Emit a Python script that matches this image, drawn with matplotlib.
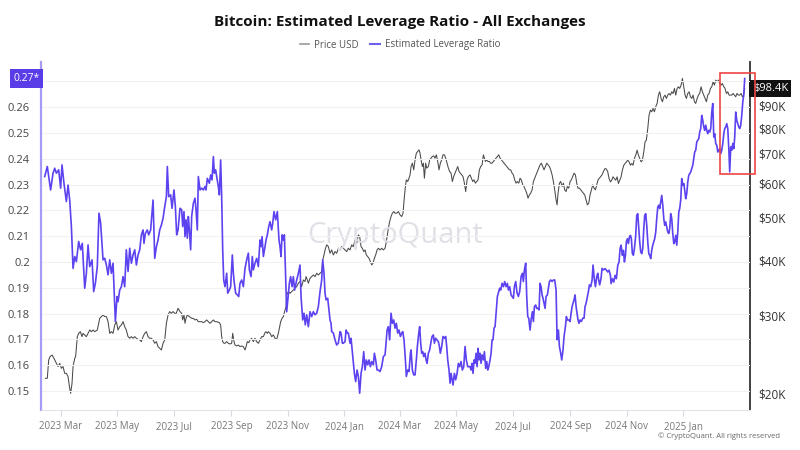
import numpy as np
import pandas as pd
import matplotlib
matplotlib.use("Agg")
import matplotlib.pyplot as plt
import matplotlib.dates as mdates
from matplotlib.lines import Line2D
from matplotlib.patches import Rectangle
from matplotlib.ticker import FixedLocator, FuncFormatter, NullLocator

plt.rcParams["font.family"] = ["Open Sans", "DejaVu Sans"]

TITLE = "Bitcoin: Estimated Leverage Ratio - All Exchanges"
START = pd.Timestamp("2023-02-01")

# days after START
lev_day = [
    10.4, 13.2, 16.8, 19.4, 21.2, 23.0, 25.5, 27.6, 29.1, 31.2, 33.8, 35.6, 37.4, 39.2, 41.0, 42.8,
    44.6, 47.1, 49.2, 51.0, 53.6, 55.4, 57.2, 59.0, 61.5, 63.3, 65.1, 67.2, 69.0, 70.8, 73.4, 75.2,
    77.0, 78.8, 80.6, 82.4, 84.2, 86.7, 88.5, 89.6, 91.4, 93.2, 95.0, 96.8, 98.5, 100.4, 102.2, 104.0,
    105.8, 107.6, 109.4, 111.2, 113.0, 114.8, 116.6, 117.6, 119.1, 121.2, 122.7, 124.8, 127.4, 129.2,
    131.0, 132.8, 134.6, 136.4, 138.2, 140.0, 141.8, 142.8, 144.3, 146.4, 147.9, 150.0, 151.5, 152.9,
    154.4, 156.5, 158.3, 159.4, 160.8, 161.9, 163.0, 164.4, 165.5, 166.6, 168.0, 169.1, 170.9, 172.7,
    173.8, 175.2, 176.3, 178.1, 179.9, 181.7, 183.5, 184.6, 186.0, 188.2, 189.6, 191.1, 192.5, 193.6,
    195.0, 196.1, 197.9, 199.0, 200.4, 201.5, 202.6, 203.7, 205.1, 206.9, 208.0, 209.8, 211.2, 213.0,
    214.1, 215.2, 216.6, 218.4, 219.9, 221.3, 223.1, 224.9, 226.7, 228.5, 230.3, 231.4, 233.2, 234.6,
    235.7, 237.5, 239.3, 241.1, 242.9, 244.0, 245.1, 246.5, 248.3, 249.4, 250.8, 252.3, 253.7, 255.5,
    256.6, 258.0, 259.8, 261.6, 263.4, 264.5, 265.6, 266.7, 268.1, 269.2, 270.3, 271.0, 271.7, 273.1,
    274.6, 276.0, 277.5, 278.9, 280.3, 282.5, 284.3, 286.1, 287.2, 289.0, 290.4, 291.8, 293.3, 295.1,
    296.9, 298.7, 300.5, 302.3, 304.1, 305.9, 307.7, 309.5, 310.6, 312.0, 313.1, 314.2, 316.0, 317.4,
    318.5, 319.6, 320.3, 322.1, 323.9, 325.7, 327.5, 329.3, 330.4, 331.8, 332.9, 334.7, 335.8, 337.2,
    338.3, 340.1, 341.2, 342.6, 343.7, 344.8, 346.2, 347.7, 349.1, 350.5, 352.0, 353.4, 354.9, 356.3,
    357.7, 359.2, 360.6, 362.1, 363.5, 365.3, 366.4, 367.8, 369.3, 370.7, 372.5, 374.3, 376.1, 377.9,
    379.0, 380.1, 381.5, 382.9, 384.4, 385.8, 387.3, 388.7, 390.1, 391.6, 393.0, 394.5, 395.9, 397.0,
    398.4, 399.9, 400.9, 402.4, 403.8, 405.3, 406.0, 407.4, 408.9, 410.3, 411.7, 412.8, 414.3, 415.3,
    416.4, 417.5, 418.6, 419.7, 421.1, 422.2, 423.3, 424.7, 426.1, 427.6, 428.7, 430.1, 431.2, 432.6,
    434.0, 435.5, 436.6, 437.6, 439.1, 440.5, 442.0, 443.4, 444.5, 445.6, 447.0, 448.1, 449.2, 450.3,
    451.3, 452.8, 454.2, 455.7, 457.1, 458.5, 460.0, 461.4, 462.9, 464.3, 465.7, 467.2, 469.7, 470.8,
    471.9, 472.9, 474.0, 475.1, 476.2, 477.3, 478.3, 479.4, 480.5, 481.6, 482.7, 484.1, 485.2, 486.6,
    487.7, 488.8, 489.9, 491.3, 492.4, 493.5, 494.5, 495.6, 496.7, 497.8, 499.2, 500.7, 501.7, 502.8,
    504.3, 505.7, 507.1, 508.6, 510.0, 511.1, 512.5, 514.0, 515.1, 516.5, 517.6, 519.0, 520.5, 521.9,
    523.3, 524.8, 526.2, 527.3, 528.4, 529.8, 530.9, 532.0, 533.1, 534.5, 535.6, 537.0, 538.1, 539.2,
    540.6, 541.7, 542.8, 544.2, 545.3, 546.4, 547.5, 548.5, 549.6, 550.7, 551.8, 553.2, 554.3, 555.4,
    556.8, 558.3, 559.7, 561.1, 562.6, 563.7, 565.1, 566.2, 567.6, 568.7, 570.1, 571.2, 572.7, 573.7,
    574.8, 576.3, 577.7, 578.8, 579.9, 580.9, 582.0, 583.1, 584.2, 585.3, 586.3, 587.4, 588.5, 589.9,
    591.4, 592.8, 593.9, 595.0, 596.4, 597.5, 598.6, 600.0, 601.5, 602.5, 604.0, 605.1, 606.5, 607.6,
    608.6, 609.7, 611.2, 612.2, 613.7, 615.5, 617.0, 618.4, 619.8, 621.3, 622.0, 623.4, 624.9, 626.3,
    627.7, 629.2, 630.6, 631.7, 632.8, 634.2, 635.3, 636.4, 637.5, 638.5, 639.6, 640.7, 641.8, 642.9,
    643.9, 645.0, 646.1, 647.2, 648.6, 649.7, 650.8, 651.9, 652.9, 654.0, 655.1, 656.2, 657.3, 658.3,
    659.4, 660.5, 661.6, 662.7, 663.7, 664.8, 665.9, 667.0, 668.1, 669.1, 670.2, 671.3, 672.4, 673.5,
    674.5, 675.6, 676.7, 677.8, 678.9, 679.9, 681.0, 682.1, 683.2, 684.3, 685.3, 686.4, 687.5, 688.6,
    689.7, 690.7, 691.8, 692.9, 694.0, 695.1, 696.1, 697.2, 698.3, 699.4, 700.5, 701.5, 702.6, 703.7,
    704.8, 705.9, 706.9, 708.0, 709.1, 710.2, 711.3, 712.3, 713.4, 714.5, 715.6, 716.7, 717.7, 718.8,
    719.9, 721.0, 722.1, 723.1, 724.2, 725.3, 726.4, 727.5, 728.5, 729.6, 730.7, 731.8, 732.9, 733.9,
    735.0, 736.1, 737.2, 738.3, 739.3, 740.4, 741.5, 742.6, 743.7, 744.7, 745.8, 746.9, 748.0, 749.1,
    750.1, 751.2, 752.3, 753.4, 754.5, 755.5, 756.6, 757.7, 758.8, 759.9, 760.9, 762.0, 763.1, 764.2,
    765.2, 766.3,
]
lev_val = [
    0.2331, 0.2370, 0.2279, 0.2344, 0.2363, 0.2344, 0.2357, 0.2286, 0.2376, 0.2305, 0.2234, 0.2298, 0.2240, 0.2137, 0.1975, 0.2021,
    0.2001, 0.2079, 0.2047, 0.2072, 0.1898, 0.1956, 0.2066, 0.1982, 0.2008, 0.1885, 0.1917, 0.1982, 0.2189, 0.2150, 0.2008, 0.2014,
    0.1988, 0.1950, 0.2008, 0.1956, 0.1995, 0.1769, 0.1866, 0.1846, 0.1891, 0.1904, 0.1943, 0.1904, 0.2047, 0.1963, 0.2053, 0.1995,
    0.2027, 0.2047, 0.1988, 0.2027, 0.2047, 0.2105, 0.2124, 0.2072, 0.2111, 0.2124, 0.2105, 0.2124, 0.2240, 0.2014,
    0.2059, 0.2085, 0.2124, 0.2143, 0.2169, 0.2214, 0.2253, 0.2370, 0.2253, 0.2260, 0.2208, 0.2279, 0.2214, 0.2105,
    0.2124, 0.2208, 0.2202, 0.2137, 0.2195, 0.2098, 0.2163, 0.2092, 0.2176, 0.2124, 0.2047, 0.2176, 0.2227, 0.2247,
    0.2202, 0.2124, 0.2331, 0.2279, 0.2286, 0.2279, 0.2292, 0.2279, 0.2324, 0.2305, 0.2337, 0.2318, 0.2408, 0.2344,
    0.2357, 0.2331, 0.2292, 0.2260, 0.2395, 0.2253, 0.2047, 0.1930, 0.1904, 0.1956, 0.1879, 0.1891, 0.1904, 0.2027,
    0.1956, 0.1917, 0.1879, 0.1872, 0.1866, 0.1917, 0.1930, 0.1904, 0.1975, 0.2008, 0.2034, 0.1969, 0.1943, 0.2021,
    0.1969, 0.1995, 0.2014, 0.1982, 0.2085, 0.2059, 0.2098, 0.2021, 0.2059, 0.2085, 0.2105, 0.2137, 0.2156, 0.2124,
    0.2150, 0.2195, 0.2163, 0.2195, 0.2085, 0.2059, 0.2021, 0.2105, 0.2085, 0.2105, 0.1982, 0.1891, 0.1807, 0.1859,
    0.1917, 0.1943, 0.1904, 0.1943, 0.1891, 0.1930, 0.1956, 0.1988, 0.1866, 0.1775, 0.1801, 0.1756, 0.1795, 0.1749,
    0.1807, 0.1788, 0.1807, 0.1795, 0.1801, 0.1827, 0.1885, 0.1930, 0.2008, 0.1956, 0.1879, 0.1853, 0.1859, 0.1814,
    0.1775, 0.1762, 0.1730, 0.1724, 0.1698, 0.1678, 0.1685, 0.1730, 0.1724, 0.1685, 0.1685, 0.1691, 0.1736, 0.1724,
    0.1724, 0.1685, 0.1704, 0.1652, 0.1607, 0.1568, 0.1536, 0.1581, 0.1556, 0.1491, 0.1568, 0.1594, 0.1652, 0.1581,
    0.1620, 0.1601, 0.1620, 0.1594, 0.1614, 0.1601, 0.1646, 0.1620, 0.1581, 0.1581, 0.1575, 0.1594, 0.1633, 0.1640,
    0.1685, 0.1736, 0.1749, 0.1698, 0.1801, 0.1762, 0.1775, 0.1743, 0.1762, 0.1724, 0.1736, 0.1711, 0.1724, 0.1730,
    0.1698, 0.1620, 0.1556, 0.1581, 0.1575, 0.1646, 0.1659, 0.1581, 0.1562, 0.1562, 0.1620, 0.1672, 0.1724, 0.1749,
    0.1685, 0.1646, 0.1652, 0.1633, 0.1646, 0.1620, 0.1607, 0.1646, 0.1659, 0.1691, 0.1711, 0.1717, 0.1685, 0.1704,
    0.1698, 0.1691, 0.1672, 0.1646, 0.1672, 0.1711, 0.1704, 0.1711, 0.1672, 0.1620, 0.1581, 0.1530, 0.1568, 0.1543,
    0.1523, 0.1568, 0.1543, 0.1568, 0.1607, 0.1594, 0.1614, 0.1581, 0.1594, 0.1672, 0.1620, 0.1594, 0.1594, 0.1581,
    0.1607, 0.1568, 0.1620, 0.1607, 0.1646, 0.1594, 0.1665, 0.1620, 0.1646, 0.1607, 0.1640, 0.1620, 0.1652, 0.1588,
    0.1614, 0.1581, 0.1594, 0.1620, 0.1646, 0.1698, 0.1698, 0.1743, 0.1749, 0.1801, 0.1866, 0.1885, 0.1898, 0.1891,
    0.1917, 0.1904, 0.1924, 0.1904, 0.1917, 0.1891, 0.1904, 0.1872, 0.1866, 0.1859, 0.1904, 0.1924, 0.1879, 0.1866,
    0.1885, 0.1943, 0.1956, 0.1924, 0.1969, 0.1995, 0.1866, 0.1788, 0.1782, 0.1736, 0.1775, 0.1807, 0.1769, 0.1827,
    0.1833, 0.1820, 0.1820, 0.1814, 0.1917, 0.1904, 0.1872, 0.1859, 0.1840, 0.1820, 0.1866, 0.1872, 0.1898, 0.1924,
    0.1930, 0.1924, 0.1930, 0.1930, 0.1891, 0.1698, 0.1736, 0.1672, 0.1646, 0.1620, 0.1659, 0.1711, 0.1749, 0.1788,
    0.1775, 0.1775, 0.1769, 0.1801, 0.1827, 0.1840, 0.1853, 0.1872, 0.1827, 0.1801, 0.1775, 0.1762, 0.1775, 0.1769,
    0.1782, 0.1782, 0.1827, 0.1840, 0.1866, 0.1885, 0.1911, 0.1904, 0.1930, 0.1988, 0.1930, 0.1904, 0.1943, 0.1956,
    0.1930, 0.1911, 0.1937, 0.1975, 0.1969, 0.1974, 0.1968, 0.1961, 0.1968, 0.1948, 0.1916, 0.1935, 0.1922, 0.1948,
    0.1935, 0.1987, 0.2000, 0.2052, 0.2065, 0.2026, 0.2045, 0.2000, 0.2026, 0.2078, 0.2090, 0.2071, 0.2097, 0.2103,
    0.2090, 0.2032, 0.2026, 0.2052, 0.2103, 0.2181, 0.2187, 0.2129, 0.2078, 0.2039, 0.2032, 0.2052, 0.2129, 0.2181,
    0.2187, 0.2142, 0.2078, 0.2032, 0.2026, 0.2013, 0.2045, 0.2065, 0.2078, 0.2090, 0.2116, 0.2168, 0.2213, 0.2220,
    0.2207, 0.2233, 0.2258, 0.2220, 0.2168, 0.2142, 0.2155, 0.2136, 0.2116, 0.2110, 0.2129, 0.2187, 0.2168, 0.2110,
    0.2071, 0.2078, 0.2103, 0.2065, 0.2116, 0.2194, 0.2207, 0.2239, 0.2323, 0.2297, 0.2304, 0.2278, 0.2245, 0.2265,
    0.2310, 0.2336, 0.2342, 0.2349, 0.2362, 0.2375, 0.2401, 0.2426, 0.2433, 0.2465, 0.2472, 0.2478, 0.2504, 0.2517,
    0.2568, 0.2549, 0.2523, 0.2510, 0.2530, 0.2510, 0.2497, 0.2510, 0.2504, 0.2517, 0.2581, 0.2614, 0.2484, 0.2497,
    0.2459, 0.2452, 0.2426, 0.2433, 0.2439, 0.2420, 0.2433, 0.2459, 0.2497, 0.2517, 0.2523, 0.2536, 0.2517, 0.2439,
    0.2349, 0.2446, 0.2433, 0.2459, 0.2439, 0.2484, 0.2581, 0.2549, 0.2536, 0.2523, 0.2517, 0.2530, 0.2568, 0.2620,
    0.2646, 0.2711,
]

price_day = [
    11.1, 13.2, 14.7, 16.1, 18.3, 20.4, 23.0, 24.8, 26.6, 28.4, 30.2, 32.0, 33.8, 35.6, 37.4, 38.4,
    39.9, 41.0, 42.8, 43.8, 45.6, 47.1, 48.9, 50.7, 51.8, 53.6, 55.4, 57.2, 59.0, 60.8, 62.6, 64.4,
    67.2, 69.8, 71.6, 73.4, 75.2, 77.0, 78.8, 80.6, 82.4, 84.2, 86.0, 87.8, 89.6, 91.4, 93.2, 95.0,
    96.8, 98.5, 100.4, 102.2, 104.0, 105.8, 107.6, 109.4, 111.2, 113.0, 114.8, 116.6, 118.4, 120.2,
    122.0, 123.8, 125.6, 127.4, 129.2, 131.0, 132.8, 134.6, 136.4, 138.2, 140.0, 141.8, 143.6, 145.4,
    147.2, 149.0, 150.8, 152.5, 154.4, 156.5, 158.3, 159.4, 160.8, 161.9, 163.0, 164.4, 166.6, 169.1,
    170.9, 172.7, 174.5, 176.3, 178.1, 179.9, 181.7, 183.5, 185.3, 187.1, 188.9, 190.7, 192.5, 194.3,
    196.1, 199.0, 200.4, 201.5, 202.6, 204.0, 205.1, 206.9, 208.7, 210.5, 212.3, 213.4, 214.8, 215.9,
    217.7, 219.5, 221.3, 223.1, 224.9, 226.7, 227.8, 229.2, 230.7, 232.1, 233.9, 235.7, 237.5, 239.3,
    241.1, 242.9, 244.7, 246.5, 248.3, 249.4, 250.8, 251.9, 253.7, 255.5, 257.3, 259.1, 260.9, 262.7,
    263.8, 265.2, 266.7, 268.1, 269.9, 271.0, 271.7, 273.5, 275.3, 277.1, 278.9, 280.7, 282.5, 284.3,
    286.1, 287.9, 289.7, 291.5, 292.6, 294.0, 295.1, 296.9, 298.7, 300.5, 302.3, 304.1, 305.9, 307.7,
    309.5, 310.6, 312.0, 313.1, 314.9, 316.7, 318.5, 320.3, 322.1, 323.9, 325.7, 327.5, 329.3, 331.1,
    332.9, 334.7, 336.5, 338.3, 340.1, 341.9, 343.7, 345.5, 347.3, 349.1, 350.5, 352.0, 353.4, 354.9,
    356.3, 357.7, 359.2, 360.6, 362.1, 363.5, 364.9, 366.4, 367.8, 369.3, 370.7, 372.5, 374.3, 376.1,
    377.9, 379.0, 380.1, 381.5, 382.9, 384.4, 385.8, 387.3, 388.7, 390.5, 392.3, 394.1, 395.9, 397.3,
    398.8, 399.9, 400.9, 402.4, 403.8, 404.9, 406.0, 407.4, 408.9, 410.3, 411.7, 413.2, 414.6, 415.7,
    416.8, 418.2, 419.3, 420.4, 421.8, 422.9, 424.7, 426.1, 427.6, 429.0, 430.4, 431.9, 433.3, 434.8,
    436.2, 437.6, 439.1, 440.5, 442.0, 443.4, 444.9, 446.3, 447.7, 449.2, 450.6, 452.0, 453.5, 454.9,
    456.4, 457.8, 459.3, 460.7, 462.1, 463.6, 465.0, 466.5, 467.9, 469.7, 471.1, 472.6, 474.0, 475.5,
    476.9, 478.3, 479.8, 481.2, 482.7, 484.1, 485.2, 486.3, 487.7, 489.1, 490.6, 492.0, 493.5, 494.9,
    496.3, 497.8, 499.2, 500.7, 502.1, 503.5, 505.0, 506.4, 507.9, 509.3, 510.7, 512.2, 513.6, 515.1,
    516.5, 517.9, 519.4, 520.8, 522.3, 523.7, 525.1, 526.6, 528.0, 529.5, 530.9, 532.3, 533.8, 535.2,
    536.7, 538.1, 539.5, 541.0, 542.4, 543.9, 545.3, 546.7, 548.2, 549.6, 551.1, 552.5, 553.9, 555.4,
    556.8, 558.3, 559.7, 561.1, 562.6, 563.7, 564.7, 566.2, 567.6, 569.1, 570.5, 571.9, 573.4, 574.8,
    576.3, 577.7, 579.1, 580.6, 582.0, 583.5, 584.9, 586.3, 587.8, 589.2, 590.7, 592.1, 593.5, 595.0,
    596.4, 597.9, 599.3, 600.7, 602.2, 603.6, 605.1, 606.5, 607.9, 609.4, 610.8, 612.2, 613.7, 615.5,
    617.0, 618.4, 619.8, 621.3, 622.7, 624.1, 625.6, 627.0, 628.5, 629.9, 631.3, 632.8, 634.2, 635.7,
    637.1, 638.5, 640.0, 641.4, 642.9, 644.3, 645.7, 647.2, 648.6, 650.1, 651.5, 652.9, 654.4, 655.8,
    657.3, 658.7, 660.1, 661.6, 663.0, 664.5, 665.9, 667.3, 668.8, 670.2, 671.7, 673.1, 674.5, 676.0,
    677.4, 678.9, 680.3, 681.7, 683.2, 684.6, 686.1, 687.5, 688.9, 690.4, 691.8, 693.3, 694.7, 696.1,
    697.6, 699.0, 700.5, 701.9, 703.3, 704.8, 706.2, 707.7, 709.1, 710.5, 712.0, 713.4, 714.9, 716.3,
    717.7, 719.2, 720.6, 722.1, 723.5, 724.9, 726.4, 727.8, 729.3, 730.7, 732.1, 733.6, 735.0, 736.5,
    737.9, 739.3, 740.8, 742.2, 743.7, 745.1, 746.5, 748.0, 749.4, 750.8, 752.3, 753.7, 755.2, 756.6,
    758.0, 759.5, 760.9, 762.4, 763.8, 765.2, 766.3,
]
price_val = [
    21600, 21600, 23770, 24190, 24400, 23980, 23360, 22960, 23360, 22760, 22960, 22170, 22170, 21790, 20490, 19970,
    21040, 22960, 23980, 24190, 26860, 27330, 27570, 26860, 27330, 27100, 26860, 27330, 27810, 27570, 27810, 27570,
    27810, 29560, 29830, 30090, 29830, 29830, 29050, 27330, 27570, 27330, 28550, 29050, 27810, 28300, 28550, 29050,
    28300, 27810, 26860, 26630, 26860, 26630, 26860, 26630, 26490, 26400, 26170, 26860, 27330, 27570,
    26860, 26630, 26630, 26400, 25940, 26170, 25490, 25270, 25050, 25940, 26400, 28800, 30090, 30620,
    30350, 30620, 30350, 30350, 31160, 30620, 30350, 29310, 30090, 28800, 29560, 30090, 29830, 29560,
    29560, 29310, 29410, 29050, 29050, 29050, 28900, 29050, 29310, 29050, 28800, 29050, 29310, 29050,
    29050, 28900, 28550, 26860, 26170, 25940, 25940, 26170, 25940, 25850, 25940, 27330, 26170, 25710,
    25580, 25710, 25490, 25580, 25490, 25050, 25490, 26170, 26030, 26400, 26630, 26170, 26630, 26170,
    25940, 26400, 26860, 26860, 27430, 27570, 27330, 27570, 27330, 26860, 27100, 26630, 26490, 27330,
    28060, 29050, 29560, 29830, 30890, 31430, 33410, 33990, 33700, 33990, 34290, 34590, 34900, 35520,
    35830, 34900, 36130, 35830, 36770, 36130, 35520, 36450, 36770, 37090, 36770, 37420, 37090, 37420,
    37750, 40130, 41190, 42280, 43410, 43030, 41550, 42280, 41190, 41920, 41550, 42650, 42280, 43030,
    42650, 42280, 41920, 42650, 42280, 43410, 43030, 44560, 43790, 45740, 45340, 43030, 42650, 41920,
    42280, 41190, 40830, 40480, 39780, 39090, 39430, 40480, 41190, 42280, 42650, 42280, 42650, 42280,
    42650, 43790, 45340, 47370, 49050, 50350, 51230, 51680, 51230, 51230, 51680, 50790, 50350, 51230,
    55900, 58910, 61000, 60470, 61530, 62610, 65410, 66560, 64280, 67730, 70140, 70750, 71370, 70140,
    67730, 65410, 66560, 61530, 66560, 64850, 65410, 67730, 68320, 68920, 69160, 68320, 69530, 67150,
    64280, 66560, 67730, 69530, 69530, 68320, 66560, 64850, 63720, 63170, 60470, 62070, 63170, 64280,
    65410, 63720, 63170, 62610, 62070, 59950, 57380, 61000, 62070, 62610, 61530, 60470, 61000, 59950,
    60470, 61000, 64280, 65410, 65990, 69530, 68320, 67150, 67730, 67150, 67150, 66560, 66560, 67150,
    67730, 68320, 68920, 69530, 68320, 67730, 67150, 66560, 65990, 65410, 64850, 64280, 64280, 63170,
    62610, 61000, 59950, 60470, 59950, 61530, 61000, 59430, 58910, 57890, 56890, 55420, 56390, 56890,
    57890, 60470, 61530, 62610, 63720, 64850, 65990, 66560, 65410, 64280, 65410, 66560, 65990, 65410,
    64280, 62610, 60470, 57890, 54930, 53520, 56890, 59950, 60470, 58910, 59950, 57890, 57380, 58910,
    58400, 60470, 61000, 62070, 63170, 62610, 59950, 58400, 58400, 57890, 57380, 56890, 56390, 54930,
    53520, 53990, 56390, 57890, 59430, 58400, 57890, 59430, 61000, 61530, 62070, 62610, 63720, 64730,
    64510, 63610, 61430, 60360, 60890, 61970, 61430, 60890, 61970, 59840, 60890, 61970, 64170, 65870,
    66450, 67030, 67610, 67030, 65870, 66450, 65870, 68210, 69410, 71250, 69410, 68210, 67030, 67610,
    70630, 74430, 75080, 79820, 85600, 87860, 87100, 88630, 87100, 89410, 90980, 95030, 96700, 93380,
    91780, 94200, 95030, 93380, 95030, 95860, 95030, 96700, 95860, 98400, 95030, 98400, 99260, 98400,
    100130, 103680, 99260, 95030, 93380, 95860, 96700, 94200, 93380, 95030, 91780, 90980, 93380, 95030,
    95860, 99260, 96700, 95030, 93380, 91780, 95030, 95860, 98400, 99260, 101890, 100130, 102800, 101890,
    102800, 101010, 100130, 101010, 99260, 98400, 95860, 96700, 95030, 95030, 95030, 95860, 95030, 94200,
    95860, 95030, 95030, 95860, 94200, 95030, 98400,
]

lev_ticks = [0.15, 0.16, 0.17, 0.18, 0.19, 0.2, 0.21, 0.22, 0.23, 0.24, 0.25, 0.26, 0.27]
price_ticks = [20000, 30000, 40000, 50000, 60000, 70000, 80000, 90000]
month_ticks = ["2023-03-01", "2023-05-01", "2023-07-01", "2023-09-01", "2023-11-01", "2024-01-01",
               "2024-03-01", "2024-05-01", "2024-07-01", "2024-09-01", "2024-11-01", "2025-01-01"]

# highlighted window (red box) at the end of the series
box_start, box_end = 739.7, 777.5
box_lev = (0.2341, 0.2732)

LEV_COLOR = "#5b43f0"
PRICE_COLOR = "#4a4a4a"

lev_dates = START + pd.to_timedelta(lev_day, unit="D")
price_dates = START + pd.to_timedelta(price_day, unit="D")

fig = plt.figure(figsize=(8, 4.5), dpi=100)
ax = fig.add_axes([41 / 800, 1 - 410 / 450, 709 / 800, 348 / 450])
ax_p = ax.twinx()
ax.set_zorder(ax_p.get_zorder() + 1)
ax.patch.set_visible(False)

ax_p.plot(price_dates, price_val, color=PRICE_COLOR, lw=0.75)
ax.plot(lev_dates, lev_val, color=LEV_COLOR, lw=1.2)

ax.set_xlim(START + pd.Timedelta(days=6.4), START + pd.Timedelta(days=772))
ax.set_ylim(0.1426, 0.2775)
ax_p.set_yscale("log")
ax_p.set_ylim(18300, 113000)

# left axis
ax.yaxis.set_major_locator(FixedLocator(lev_ticks))
ax.yaxis.set_major_formatter(FuncFormatter(lambda v, p: "" if abs(v - 0.27) < 1e-9 else f"{v:g}"))
ax.yaxis.set_minor_locator(NullLocator())
ax.tick_params(axis="y", length=0, labelsize=8, labelcolor="#444", pad=8)
ax.grid(axis="y", color="#f1f1f4", lw=0.8)
ax.set_axisbelow(True)

# right axis
ax_p.yaxis.set_major_locator(FixedLocator(price_ticks))
ax_p.yaxis.set_major_formatter(FuncFormatter(lambda v, p: f"${v / 1000:.0f}K"))
ax_p.yaxis.set_minor_locator(NullLocator())
ax_p.tick_params(axis="y", length=0, labelsize=8.5, labelcolor="#333", pad=6)

# x axis
ax.xaxis.set_major_locator(FixedLocator(mdates.date2num(pd.to_datetime(month_ticks))))
ax.xaxis.set_major_formatter(mdates.DateFormatter("%Y %b"))
ax.tick_params(axis="x", length=4, color="#d8d8e0", labelsize=7, labelcolor="#777", pad=4)

for a in (ax, ax_p):
    a.spines["top"].set_visible(False)
ax.spines["left"].set_color("#a59af5")
ax.spines["left"].set_linewidth(1.6)
ax.spines["right"].set_visible(False)
ax.spines["bottom"].set_color("#e2e2ea")
ax_p.spines["left"].set_visible(False)
ax_p.spines["bottom"].set_visible(False)
ax_p.spines["right"].set_color("#333333")
ax_p.spines["right"].set_linewidth(1.3)

# current value tags
ax.annotate("0.27*", xy=(0, lev_val[-1]), xycoords=("axes fraction", "data"),
            xytext=(-1, 0), textcoords="offset points", ha="right", va="center",
            fontsize=7.5, color="white",
            bbox=dict(boxstyle="square,pad=0.35", fc="#5a3de6", ec="none"))
ax_p.annotate(f"${price_val[-1] / 1000:.1f}K", xy=(1, price_val[-1]), xycoords=("axes fraction", "data"),
              xytext=(2, 0), textcoords="offset points", ha="left", va="center",
              fontsize=8, color="white",
              bbox=dict(boxstyle="square,pad=0.3", fc="#111111", ec="none"))

# red highlight box
x0 = mdates.date2num(START + pd.Timedelta(days=box_start))
x1 = mdates.date2num(START + pd.Timedelta(days=box_end))
ax.add_patch(Rectangle((x0, box_lev[0]), x1 - x0, box_lev[1] - box_lev[0],
                       fill=False, ec="#ee4444", lw=1.2, clip_on=False, zorder=5))

# watermark
ax.text(0.5, 0.5, "CryptoQuant", transform=ax.transAxes, ha="center", va="center",
        fontsize=21, color="#e0e0e7", zorder=0)

fig.text(0.5, 1 - 22 / 450, TITLE, ha="center", va="center", fontsize=11, fontweight="bold", color="#111")
handles = [Line2D([], [], color="#9a9a9a", lw=1.2), Line2D([], [], color="#6f5ff2", lw=1.5)]
fig.legend(handles, ["Price USD", "Estimated Leverage Ratio"], loc="center", bbox_to_anchor=(0.5, 1 - 45 / 450),
           ncol=2, frameon=False, fontsize=7, handlelength=1.0, handletextpad=0.5, columnspacing=1.2,
           labelcolor="#555")
fig.text(0.975, 1 - 436 / 450, "© CryptoQuant. All rights reserved", ha="right", va="center",
         fontsize=5.5, color="#666")

fig.savefig("out.png", dpi=100)
